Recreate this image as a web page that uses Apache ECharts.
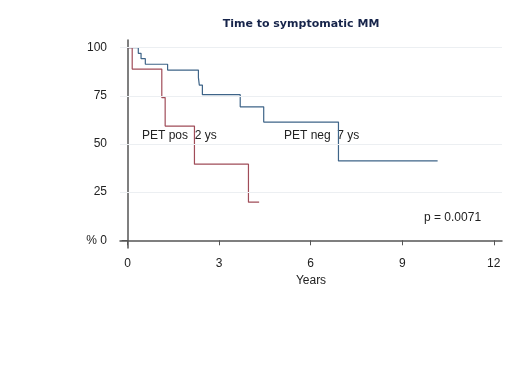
<!DOCTYPE html>
<html>
<head>
<meta charset="utf-8">
<script src="https://cdn.jsdelivr.net/npm/echarts@6/dist/echarts.min.js"></script>
<style>
html,body{margin:0;padding:0;background:#fff;}
#chart{width:520px;height:377px;}
</style>
</head>
<body>
<div id="chart"></div>
<script>
// Kaplan-Meier steps: [years, % event free]
var petPos = [[0,100],[0.15,88.9],[1.12,74.1],[1.23,59.3],[2.19,39.5],[3.96,19.8],[4.31,19.8]];
var petNeg = [[0,100],[0.35,97.1],[0.44,94.3],[0.58,91.4],[1.31,88.4],[2.32,84.5],[2.35,80.6],[2.45,75.6],
	[3.69,69.3],[4.46,61.4],[6.91,41.2],[10.16,41.2]];
var xTicks = [0,3,6,9,12];
var yTicks = [0,25,50,75,100];
var gridValues = [25,50,75,100];

var font = 'Liberation Sans, Arial, sans-serif';
var chart = echarts.init(document.getElementById('chart'));

var gridLines = [];
for(var i = 0; i < gridValues.length; i++){
	gridLines.push({yAxis: gridValues[i]});
}

var option = {
	animation: false,
	title: {
		text: 'Time to symptomatic MM',
		left: 296,
		textAlign: 'center',
		top: 14,
		textStyle: {fontSize: 11, fontWeight: 'bold', color: '#16244a', fontFamily: 'DejaVu Sans, Verdana, sans-serif'}
	},
	grid: {left: 120, right: 18, top: 40, bottom: 129},
	xAxis: {
		type: 'value',
		min: -0.25,
		max: 12.27,
		name: 'Years',
		nameLocation: 'middle',
		nameGap: 27,
		nameTextStyle: {fontSize: 12, color: '#222', fontFamily: font},
		axisLine: {lineStyle: {color: '#555', width: 1.5}},
		axisTick: {customValues: xTicks, length: 5, lineStyle: {color: '#555'}},
		axisLabel: {customValues: xTicks, fontSize: 12, color: '#222', fontFamily: font, margin: 10},
		splitLine: {show: false}
	},
	yAxis: {
		type: 'value',
		min: -4,
		max: 104,
		axisLine: {show: true, lineStyle: {color: '#555', width: 1.5}},
		axisTick: {show: true, customValues: yTicks, length: 6, lineStyle: {color: '#555'}},
		axisLabel: {
			customValues: yTicks, fontSize: 12, color: '#222', fontFamily: font, margin: 13,
			formatter: function(v){ return v === 0 ? '% 0' : v; }
		},
		splitLine: {show: false}
	},
	series: [{
		name: 'PET neg',
		type: 'line',
		step: 'end',
		data: petNeg,
		symbol: 'none',
		lineStyle: {color: '#3e6488', width: 1.2},
		markLine: {
			silent: true,
			symbol: 'none',
			label: {show: false},
			lineStyle: {color: '#eceff2', width: 1, type: 'solid'},
			data: gridLines
		},
		z: 3
	}, {
		name: 'PET pos',
		type: 'line',
		step: 'end',
		data: petPos,
		symbol: 'none',
		lineStyle: {color: '#a04c58', width: 1.2},
		z: 3
	}],
	graphic: [
		{type: 'text', left: 142, top: 130, style: {text: 'PET pos  2 ys', fontSize: 12, fill: '#222', fontFamily: font}},
		{type: 'text', left: 284, top: 130, style: {text: 'PET neg  7 ys', fontSize: 12, fill: '#222', fontFamily: font}},
		{type: 'text', left: 424, top: 212, style: {text: 'p = 0.0071', fontSize: 12, fill: '#222', fontFamily: font}}
	]
};
chart.setOption(option);
</script>
</body>
</html>
